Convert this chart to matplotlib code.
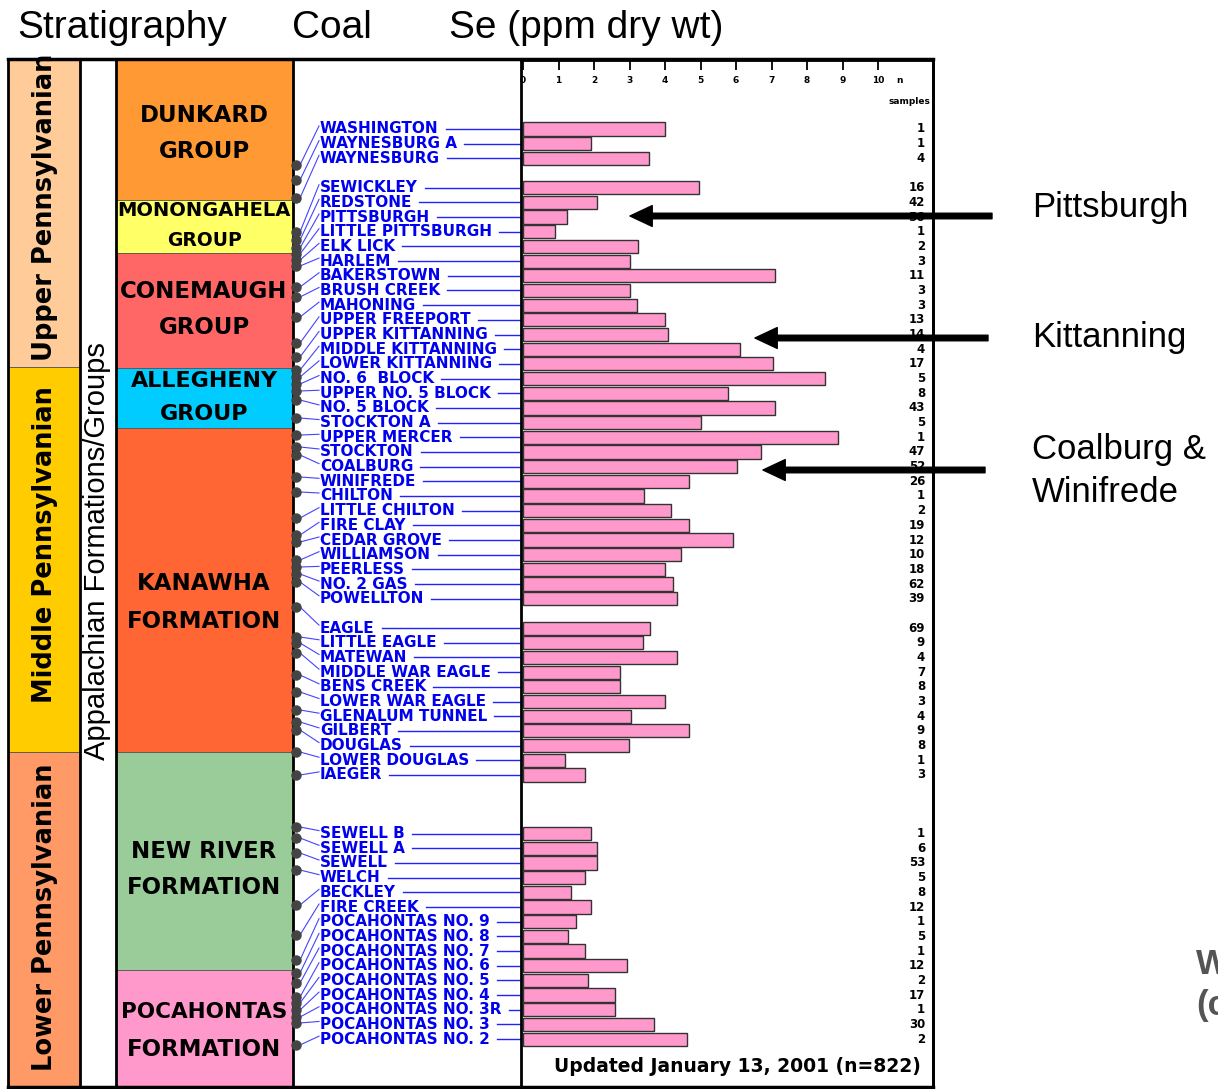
import matplotlib
matplotlib.use('Agg')
import matplotlib.pyplot as plt
from matplotlib import transforms as mtransforms

plt.rcParams['font.family'] = ['DejaVu Sans']

# ---- data -------------------------------------------------------------
coals = ['WASHINGTON', 'WAYNESBURG A', 'WAYNESBURG',
         'SEWICKLEY', 'REDSTONE', 'PITTSBURGH', 'LITTLE PITTSBURGH', 'ELK LICK',
         'HARLEM', 'BAKERSTOWN', 'BRUSH CREEK', 'MAHONING', 'UPPER FREEPORT',
         'UPPER KITTANNING', 'MIDDLE KITTANNING', 'LOWER KITTANNING', 'NO. 6  BLOCK',
         'UPPER NO. 5 BLOCK', 'NO. 5 BLOCK', 'STOCKTON A', 'UPPER MERCER', 'STOCKTON',
         'COALBURG', 'WINIFREDE', 'CHILTON', 'LITTLE CHILTON', 'FIRE CLAY',
         'CEDAR GROVE', 'WILLIAMSON', 'PEERLESS', 'NO. 2 GAS', 'POWELLTON',
         'EAGLE', 'LITTLE EAGLE', 'MATEWAN', 'MIDDLE WAR EAGLE', 'BENS CREEK',
         'LOWER WAR EAGLE', 'GLENALUM TUNNEL', 'GILBERT', 'DOUGLAS', 'LOWER DOUGLAS',
         'IAEGER',
         'SEWELL B', 'SEWELL A', 'SEWELL', 'WELCH', 'BECKLEY', 'FIRE CREEK',
         'POCAHONTAS NO. 9', 'POCAHONTAS NO. 8', 'POCAHONTAS NO. 7', 'POCAHONTAS NO. 6',
         'POCAHONTAS NO. 5', 'POCAHONTAS NO. 4', 'POCAHONTAS NO. 3R', 'POCAHONTAS NO. 3',
         'POCAHONTAS NO. 2']

se_ppm = [4.0, 1.9, 3.55,
          4.95, 2.07, 1.25, 0.9, 3.25, 3.0, 7.1, 3.0, 3.2, 4.0, 4.08, 6.1, 7.05,
          8.5, 5.78, 7.1, 5.0, 8.87, 6.7, 6.03, 4.67, 3.4, 4.16, 4.67, 5.92, 4.45,
          4.0, 4.22, 4.33,
          3.57, 3.37, 4.33, 2.72, 2.72, 4.0, 3.03, 4.67, 2.97, 1.19, 1.73,
          1.9, 2.07, 2.07, 1.73, 1.36, 1.9, 1.5, 1.27, 1.73, 2.92, 1.84, 2.58,
          2.58, 3.68, 4.62]

n_samples = [1, 1, 4,
             16, 42, 56, 1, 2, 3, 11, 3, 3, 13, 14, 4, 17, 5, 8, 43, 5, 1, 47, 52,
             26, 1, 2, 19, 12, 10, 18, 62, 39,
             69, 9, 4, 7, 8, 3, 4, 9, 8, 1, 3,
             1, 6, 53, 5, 8, 12, 1, 5, 1, 12, 2, 17, 1, 30, 2]

block_sizes = [3, 29, 11, 15]   # coals per block of rows
block_gaps = [1, 1, 3]          # empty rows after each block

epochs = ['Upper Pennsylvanian', 'Middle Pennsylvanian', 'Lower Pennsylvanian']
groups = [('DUNKARD', 'GROUP'), ('MONONGAHELA', 'GROUP'), ('CONEMAUGH', 'GROUP'),
          ('ALLEGHENY', 'GROUP'), ('KANAWHA', 'FORMATION'),
          ('NEW RIVER', 'FORMATION'), ('POCAHONTAS', 'FORMATION')]

# ---- layout (pixels) --------------------------------------------------
epoch_span = [(60, 367), (367, 752), (752, 1087)]
epoch_col = ['#FFCC99', '#FFCC00', '#FF9966']
epoch_text_y = [207, 545, 917]
group_span = [(60, 200), (200, 253), (253, 368), (368, 428), (428, 752),
              (752, 970), (970, 1087)]
group_col = ['#FF9933', '#FFFF66', '#FF6666', '#00CCFF', '#FF6633',
             '#99CC99', '#FF99CC']
group_text_y = [(116, 151), (211, 240), (292, 328), (381, 414), (584, 622),
                (852, 887), (1012, 1049)]
group_fs = [(16.5, 16.5), (14, 13.5), (16.5, 16.5), (16, 16), (16.5, 16.5),
            (16.5, 16.5), (15.5, 16.5)]
dot_y = [165, 180, 198, 232, 240, 248, 254, 260, 266, 287, 297, 317, 343, 357,
         370, 377, 384, 391, 400, 418, 435, 447, 455, 477, 492, 518, 535, 542,
         560, 567, 574, 582, 607, 637, 643, 653, 675, 692, 710, 722, 730, 752,
         775, 827, 838, 853, 870, 905, 935, 960, 973, 983, 997, 1003, 1010,
         1017, 1023, 1045]

rows = []
s = 0
for b, nb in enumerate(block_sizes):
    for i in range(nb):
        rows.append(s)
        s += 1
    if b < len(block_gaps):
        s += block_gaps[b]

fig = plt.figure(figsize=(12.18, 10.89), dpi=100)
bg = fig.add_axes([0, 0, 1, 1])
bg.set_xlim(0, 1218)
bg.set_ylim(1089, 0)
bg.axis('off')

ax = fig.add_axes([521 / 1218, 2 / 1089, 412 / 1218, 1027 / 1089])
ax.patch.set_visible(False)
ax.set_xlim(-0.06, 11.55)
ax.set_ylim(65.26, -4.70)

trans = mtransforms.blended_transform_factory(bg.transData, ax.transData)


def row_px(r):
    return bg.transData.inverted().transform(ax.transData.transform((0, r)))[1]


# stratigraphy columns
for (y0, y1), c in zip(epoch_span, epoch_col):
    bg.add_patch(plt.Rectangle((8, y0), 72, y1 - y0, facecolor=c, edgecolor='#555555', lw=0.6))
for (y0, y1), c in zip(group_span, group_col):
    bg.add_patch(plt.Rectangle((116, y0), 177, y1 - y0, facecolor=c, edgecolor='#555555', lw=0.6))

clip = plt.Rectangle((8, 60), 72, 1027, transform=bg.transData, visible=False)
bg.add_patch(clip)
for lab, y in zip(epochs, epoch_text_y):
    t = bg.text(45, y, lab, rotation=90, ha='center', va='center',
                fontsize=18.5, fontweight='bold')
    t.set_clip_path(clip)

bg.text(97, 551, 'Appalachian Formations/Groups', rotation=90, ha='center',
        va='center', fontsize=21, family='Liberation Sans')

for (l1, l2), (ya, yb), (f1, f2) in zip(groups, group_text_y, group_fs):
    bg.text(204, ya, l1, ha='center', va='center', fontsize=f1, fontweight='bold')
    bg.text(204, yb, l2, ha='center', va='center', fontsize=f2, fontweight='bold')

# frame
for x in (8, 80, 116, 293, 933):
    bg.plot([x, x], [59, 1087], color='black', lw=2)
bg.plot([8, 933], [59, 59], color='black', lw=2.5)
bg.plot([8, 933], [1087, 1087], color='black', lw=2.5)

# headers
bg.text(17, 28, 'Stratigraphy', ha='left', va='center', fontsize=28, family='Liberation Sans')
bg.text(292, 28, 'Coal', ha='left', va='center', fontsize=28, family='Liberation Sans')
bg.text(449, 28, 'Se (ppm dry wt)', ha='left', va='center', fontsize=28, family='Liberation Sans')

# coal names and leaders
name_texts = []
for name, r, yd in zip(coals, rows, dot_y):
    t = bg.text(320, r, name, transform=trans, ha='left', va='center',
                fontsize=11, fontweight='bold', color='#0000EE', zorder=3)
    name_texts.append(t)
    bg.plot([300, 319], [yd, row_px(r) - 3], color='#4444FF', lw=0.8, zorder=2)
    bg.plot([296], [yd], 'o', color='#444444', markersize=6.5, zorder=4)

fig.canvas.draw()
for t, r in zip(name_texts, rows):
    x1 = bg.transData.inverted().transform((t.get_window_extent().x1, 0))[0]
    bg.plot([x1 + 7, 521], [r, r], transform=trans, color='#2222FF', lw=1, zorder=2)

# bars
ax.barh(rows, se_ppm, height=0.9, color='#FF99CC', edgecolor='#333333', linewidth=1, zorder=2)

ax.set_xticks(range(11))
ax.set_yticks([])
ax.tick_params(axis='x', top=True, bottom=False, direction='in', length=7, width=1.3,
               labeltop=False, labelbottom=False)
for sp in ax.spines.values():
    sp.set_linewidth(2)

xt = ax.get_xaxis_transform()
for v in range(11):
    ax.text(v, 0.9805, str(v), transform=xt, ha='center', va='center', fontsize=6.5,
            fontweight='bold')
ax.text(10.6, 0.9805, 'n', transform=xt, ha='center', va='center', fontsize=6.5,
        fontweight='bold')
bg.text(930, 102, 'samples', ha='right', va='center', fontsize=6.5, fontweight='bold')

for r, n in zip(rows, n_samples):
    bg.text(925, r, str(n), transform=trans, ha='right', va='center', fontsize=8.5,
            fontweight='bold')

bg.text(921, 1067, 'Updated January 13, 2001 (n=822)', ha='right', va='center',
        fontsize=13.5, fontweight='bold')

# arrows and notes
arrows = [(630, 992, 216), (755, 988, 338), (763, 985, 470)]
for tip, tail, y in arrows:
    bg.annotate('', xy=(tip, y), xytext=(tail, y),
                arrowprops=dict(facecolor='black', edgecolor='black', width=4,
                                headwidth=15, headlength=16), zorder=6)

for txt, y in [('Pittsburgh', 207), ('Kittanning', 337), ('Coalburg &', 450), ('Winifrede', 492)]:
    bg.text(1032, y, txt, ha='left', va='center', fontsize=25, family='Liberation Sans')
# partial notes cut by the right edge, as in the source picture
bg.text(1196, 965, 'W', ha='left', va='center', fontsize=25, family='Liberation Sans',
        fontweight='bold', color='#555555')
bg.text(1196, 1005, '(c', ha='left', va='center', fontsize=25, family='Liberation Sans',
        fontweight='bold', color='#555555')

fig.savefig('out.png', dpi=100)
